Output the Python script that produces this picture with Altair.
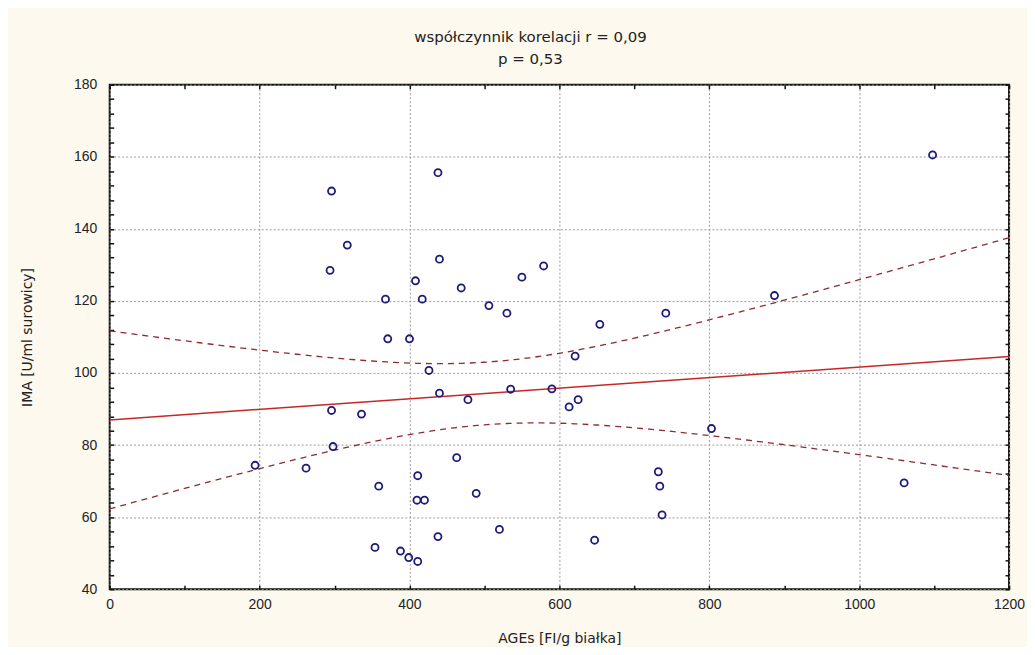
import altair as alt
import numpy as np
import pandas as pd

# ---- data ----
ages = [194, 262, 298, 296, 336, 359, 354, 388, 399, 411, 411, 410, 420, 438, 463,
        489, 520, 440, 478, 535, 590, 613, 625, 732, 734, 737, 647, 296, 438, 317,
        294, 440, 408, 368, 417, 469, 506, 530, 550, 579, 371, 400, 426, 621, 1098,
        887, 742, 654, 803, 1060]
ima = [74.4, 73.6, 79.6, 89.6, 88.6, 68.6, 51.6, 50.6, 48.8, 47.7, 71.5, 64.7, 64.7,
       54.6, 76.5, 66.6, 56.6, 94.4, 92.6, 95.5, 95.6, 90.6, 92.6, 72.6, 68.6, 60.6,
       53.6, 150.5, 155.6, 135.5, 128.5, 131.6, 125.6, 120.5, 120.5, 123.6, 118.7,
       116.6, 126.6, 129.7, 109.5, 109.5, 100.7, 104.7, 160.5, 121.5, 116.6, 113.5,
       84.6, 69.5]
title_lines = ["współczynnik korelacji r = 0,09", "p = 0,53"]
x_title = "AGEs [FI/g białka]"
y_title = "IMA [U/ml surowicy]"
x_ticks = [0, 100, 200, 300, 400, 500, 600, 700, 800, 900, 1000, 1100, 1200]
y_ticks = list(range(40, 181, 4))

df = pd.DataFrame({"AGEs": ages, "IMA": ima})

# ---- 95% confidence band of the regression line (computed from the data) ----
xa = np.array(ages, float)
ya = np.array(ima, float)
n = len(xa)
b1, b0 = np.polyfit(xa, ya, 1)
resid = ya - (b0 + b1 * xa)
s = np.sqrt((resid ** 2).sum() / (n - 2))
sxx = ((xa - xa.mean()) ** 2).sum()
t975 = 2.0106  # t(0.975, 48)
xg = np.linspace(0, 1200, 121)
fit = b0 + b1 * xg
half = t975 * s * np.sqrt(1.0 / n + (xg - xa.mean()) ** 2 / sxx)
band = pd.DataFrame({
    "AGEs": np.concatenate([xg, xg]),
    "IMA": np.concatenate([fit + half, fit - half]),
    "side": ["upper"] * len(xg) + ["lower"] * len(xg),
})

LABEL_FONT = "Liberation Sans"
TITLE_FONT = "DejaVu Sans"
TXT = "#222222"

xscale = alt.Scale(domain=[0, 1200], nice=False, zero=False)
yscale = alt.Scale(domain=[40, 180], nice=False, zero=False)

grid_x = {"condition": {"test": "datum.value % 200 === 0", "value": 1}, "value": 0}
grid_y = {"condition": {"test": "datum.value % 20 === 0", "value": 1}, "value": 0}

x_main_axis = alt.Axis(
    orient="bottom", values=x_ticks, offset=-4, domain=False, format="d",
    ticks=True, tickSize=4, tickColor="#111111", tickWidth=1.5,
    grid=True, gridDash=[2, 2], gridColor="#9c9c9c", gridWidth=1, gridOpacity=grid_x,
    labelExpr="datum.value % 200 === 0 ? datum.label : ''",
    labelPadding=8, labelFlush=False, labelOverlap=False,
    labelFont=LABEL_FONT, labelFontSize=14, labelColor=TXT,
    title=x_title, titleFont=TITLE_FONT, titleFontSize=14, titleFontWeight="normal",
    titleColor=TXT, titleX=451, titleY=53, titleBaseline="middle",
)
y_main_axis = alt.Axis(
    orient="left", values=y_ticks, offset=-4, domain=False, format="d",
    ticks=True, tickSize=4, tickColor="#111111", tickWidth=1.5,
    grid=True, gridDash=[2, 2], gridColor="#9c9c9c", gridWidth=1, gridOpacity=grid_y,
    labelExpr="datum.value % 20 === 0 ? datum.label : ''",
    labelPadding=13, labelFlush=False, labelOverlap=False,
    labelFont=LABEL_FONT, labelFontSize=14, labelColor=TXT,
    title=y_title, titleFont=TITLE_FONT, titleFontSize=14, titleFontWeight="normal",
    titleColor=TXT, titleX=-86, titleY=253, titleAngle=270, titleBaseline="middle",
)
x_top_axis = alt.Axis(
    orient="top", values=x_ticks, offset=-4, domain=False, labels=False, grid=False,
    ticks=True, tickSize=4, tickColor="#111111", tickWidth=1.5, title=None,
)
y_right_axis = alt.Axis(
    orient="right", values=y_ticks, offset=-4, domain=False, labels=False, grid=False,
    ticks=True, tickSize=4, tickColor="#111111", tickWidth=1.5, title=None,
)

bands = alt.Chart(band).mark_line(
    color="#8e2b2b", strokeWidth=1.3, strokeDash=[6, 5], clip=True
).encode(
    x=alt.X("AGEs:Q", scale=xscale, axis=None),
    y=alt.Y("IMA:Q", scale=yscale, axis=None),
    detail="side:N",
)

reg = alt.Chart(df).transform_regression(
    "AGEs", "IMA", extent=[0, 1200]
).mark_line(color="#c62828", strokeWidth=1.5, clip=True).encode(
    x=alt.X("AGEs:Q", scale=xscale, axis=x_top_axis),
    y=alt.Y("IMA:Q", scale=yscale, axis=y_right_axis),
)

points = alt.Chart(df).mark_point(
    shape="circle", filled=False, size=50, strokeWidth=1.8, color="#1c1c78", opacity=1
).encode(
    x=alt.X("AGEs:Q", scale=xscale, axis=x_main_axis),
    y=alt.Y("IMA:Q", scale=yscale, axis=y_main_axis),
)

chart = alt.layer(bands, reg, points).resolve_axis(
    x="independent", y="independent"
).properties(
    width=902,
    height=506,
    autosize=alt.AutoSizeParams(type="none"),
    padding={"left": 102, "top": 76, "right": 18, "bottom": 57},
    title=alt.Title(
        text=title_lines, anchor="middle", frame="group", dx=-29, offset=11,
        font=TITLE_FONT, fontSize=15, fontWeight="normal", color=TXT, lineHeight=22,
    ),
).configure(
    background="#fdf9ee",
).configure_view(
    fill="white", stroke="#111111", strokeWidth=2,
)

chart.save("out.html", embed_options={"renderer": "svg", "actions": False})
